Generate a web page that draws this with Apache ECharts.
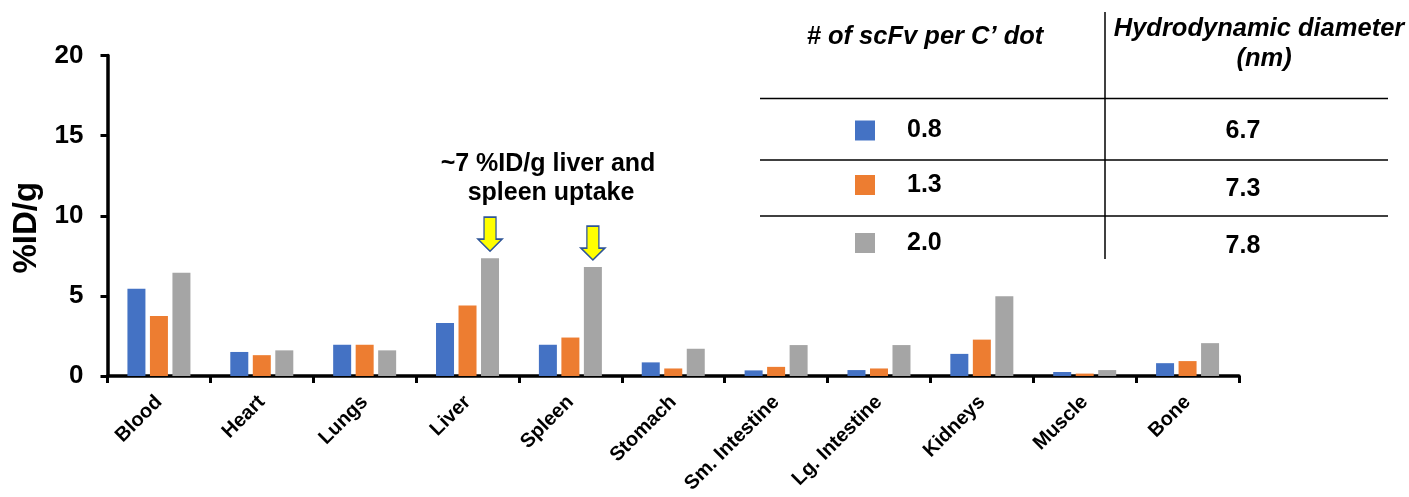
<!DOCTYPE html>
<html>
<head>
<meta charset="utf-8">
<script src="https://cdn.jsdelivr.net/npm/echarts@6/dist/echarts.min.js"></script>
<style>
  html, body { margin: 0; padding: 0; background: #fff; }
  #chart { width: 1409px; height: 497px; }
</style>
</head>
<body>
<div id="chart"></div>
<script>
// ---- data ----
const categories = ['Blood', 'Heart', 'Lungs', 'Liver', 'Spleen', 'Stomach', 'Sm. Intestine', 'Lg. Intestine', 'Kidneys', 'Muscle', 'Bone'];
const seriesNames = ['0.8', '1.3', '2.0'];            // # of scFv per C' dot
const hydroDiameters = ['6.7', '7.3', '7.8'];          // nm
const values08 = [5.45, 1.5, 1.95, 3.3, 1.95, 0.85, 0.35, 0.37, 1.38, 0.25, 0.8];
const values13 = [3.75, 1.3, 1.95, 4.4, 2.4, 0.47, 0.57, 0.47, 2.27, 0.15, 0.93];
const values20 = [6.45, 1.6, 1.6, 7.35, 6.8, 1.7, 1.93, 1.93, 4.97, 0.37, 2.05];
const yTicks = [0, 5, 10, 15, 20];
const arrowCategories = ['Liver', 'Spleen'];
const annotationLines = ['~7 %ID/g liver and', 'spleen uptake'];
const headerLeft = '# of scFv per C’ dot';
const headerRight = ['Hydrodynamic diameter', '(nm)'];

// ---- styling ----
const FONT = 'Arial, "Liberation Sans", sans-serif';
const colors = ['#4472C4', '#ED7D31', '#A5A5A5'];
const allValues = [values08, values13, values20];

const arrowPath = 'path://M6,0 L18,0 L18,22 L24,22 L12,34 L0,22 L6,22 Z';

const series = seriesNames.map((name, i) => {
  const s = {
    name: name,
    type: 'bar',
    data: allValues[i],
    barWidth: 18,
    barGap: '25%',
    itemStyle: { color: colors[i] },
    emphasis: { disabled: true },
    silent: true
  };
  if (i === 2) {
    s.markPoint = {
      silent: true,
      symbol: arrowPath,
      symbolSize: [24, 34],
      symbolOffset: [0, -24],
      itemStyle: { color: '#FFFF00', borderColor: '#2F5597', borderWidth: 1.5 },
      label: { show: false },
      data: arrowCategories.map(c => {
        const idx = categories.indexOf(c);
        return { coord: [idx, values20[idx]] };
      })
    };
  }
  return s;
});

// table layout
const rowY = [131, 189, 246];
const legendTop = [118, 172.5, 230.5];
const graphic = [
  { type: 'line', shape: { x1: 760, y1: 98.5, x2: 1388, y2: 98.5 }, style: { stroke: '#000', lineWidth: 1.5 } },
  { type: 'line', shape: { x1: 760, y1: 160, x2: 1388, y2: 160 }, style: { stroke: '#000', lineWidth: 1.5 } },
  { type: 'line', shape: { x1: 760, y1: 216, x2: 1388, y2: 216 }, style: { stroke: '#000', lineWidth: 1.5 } },
  { type: 'line', shape: { x1: 1105, y1: 12, x2: 1105, y2: 259 }, style: { stroke: '#000', lineWidth: 1.5 } },
  { type: 'text', x: 925, y: 37, style: { text: headerLeft, font: 'italic bold 25.5px ' + FONT, fill: '#000', align: 'center', verticalAlign: 'middle' } },
  { type: 'text', x: 1259, y: 29, style: { text: headerRight[0], font: 'italic bold 25.5px ' + FONT, fill: '#000', align: 'center', verticalAlign: 'middle' } },
  { type: 'text', x: 1264, y: 59, style: { text: headerRight[1], font: 'italic bold 25.5px ' + FONT, fill: '#000', align: 'center', verticalAlign: 'middle' } },
  { type: 'text', x: 548, y: 164, style: { text: annotationLines[0], font: 'bold 25px ' + FONT, fill: '#000', align: 'center', verticalAlign: 'middle' } },
  { type: 'text', x: 551, y: 193, style: { text: annotationLines[1], font: 'bold 25px ' + FONT, fill: '#000', align: 'center', verticalAlign: 'middle' } }
].concat(hydroDiameters.map((d, i) => ({
  type: 'text', x: 1243, y: rowY[i],
  style: { text: d, font: 'bold 25px ' + FONT, fill: '#000', align: 'center', verticalAlign: 'middle' }
})));

const legends = seriesNames.map((name, i) => ({
  orient: 'vertical',
  left: 855,
  top: legendTop[i],
  padding: 0,
  itemWidth: 20,
  itemHeight: 20,
  icon: 'rect',
  selectedMode: false,
  data: [name],
  textStyle: { fontFamily: FONT, fontWeight: 'bold', fontSize: 25, color: '#000', lineHeight: 20, padding: [0, 0, 0, 27] }
}));

const chart = echarts.init(document.getElementById('chart'), null, { renderer: 'canvas' });
chart.setOption({
  animation: false,
  color: colors,
  textStyle: { fontFamily: FONT },
  grid: { left: 107.5, right: 170, top: 55.5, bottom: 121, containLabel: false },
  legend: legends,
  xAxis: {
    type: 'category',
    data: categories,
    boundaryGap: true,
    axisLine: { show: true, lineStyle: { color: '#000', width: 3.5 } },
    axisTick: { show: true, length: 7, lineStyle: { color: '#000', width: 3 }, alignWithLabel: false },
    axisLabel: {
      interval: 0,
      rotate: 45,
      margin: 23,
      padding: [28, 0, 0, 0],
      fontFamily: FONT,
      fontWeight: 'bold',
      fontSize: 20,
      color: '#000',
      hideOverlap: false
    },
    splitLine: { show: false }
  },
  yAxis: {
    type: 'value',
    min: yTicks[0],
    max: yTicks[yTicks.length - 1],
    interval: yTicks[1] - yTicks[0],
    name: '%ID/g',
    nameLocation: 'middle',
    nameGap: 62,
    nameTextStyle: { fontFamily: FONT, fontWeight: 'bold', fontSize: 33, color: '#000', padding: [0, 24, 0, 0] },
    axisLine: { show: true, lineStyle: { color: '#000', width: 3.5 } },
    axisTick: { show: true, length: 7, lineStyle: { color: '#000', width: 3 } },
    axisLabel: { margin: 24, fontFamily: FONT, fontWeight: 'bold', fontSize: 26, color: '#000' },
    splitLine: { show: false }
  },
  series: series,
  graphic: graphic
});
</script>
</body>
</html>
